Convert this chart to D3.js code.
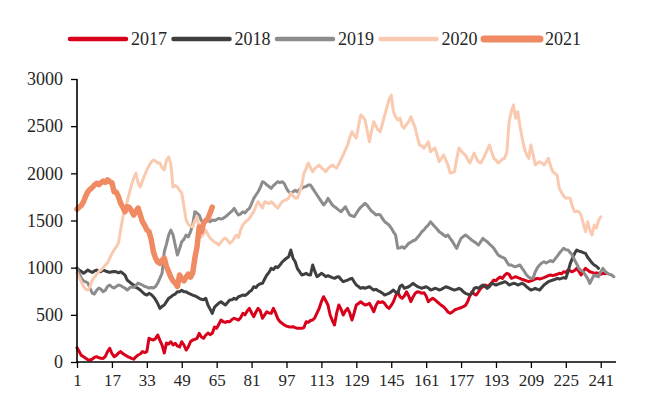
<!DOCTYPE html>
<html>
<head>
<meta charset="utf-8">
<script src="https://cdn.jsdelivr.net/npm/d3@7/dist/d3.min.js"></script>
<style>
  html, body { margin: 0; padding: 0; background: #fff; }
  svg text { font-family: "Liberation Serif", "Times New Roman", serif; fill: #262626; }
</style>
</head>
<body>
<svg id="chart" width="649" height="405"></svg>
<script>
// Daily values per year (trading day 1, 2, 3, ...)
const years = ["2017", "2018", "2019", "2020", "2021"];

const v2017 = [150,110,70,56,40,25,21,30,50,56,45,40,38,60,110,145,90,56,70,95,
110,90,74,60,50,39,30,55,74,85,110,100,110,251,240,233,250,286,230,180,
95,201,190,215,180,198,170,159,215,180,127,160,215,233,240,251,304,265,251,286,
307,290,304,371,357,400,445,427,420,430,427,450,463,455,445,470,516,500,540,569,
520,480,530,569,540,463,500,533,520,516,569,520,460,427,410,392,380,374,370,374,
365,357,357,357,365,427,420,440,445,470,520,569,640,692,650,604,498,440,392,520,
604,560,498,540,569,520,445,520,604,620,639,620,604,610,622,580,533,600,639,630,
639,620,586,569,600,639,700,745,692,675,700,745,700,639,690,728,745,740,728,735,
700,639,660,675,660,639,620,600,586,560,530,516,530,551,560,569,575,586,600,639,
700,745,720,710,745,781,800,816,800,816,840,869,860,887,900,887,920,940,930,887,
895,904,895,887,875,869,860,851,860,869,880,887,880,887,895,904,915,922,915,922,
930,940,935,957,950,975,965,957,970,993,960,922,960,993,975,957,950,940,945,940,
930,940,935,940];

const v2018 = [996,975,960,940,957,975,960,950,965,975,957,960,975,965,957,950,957,960,957,945,
957,940,920,869,850,830,816,790,780,763,740,720,710,728,715,692,660,620,569,590,
604,640,675,690,710,720,745,745,760,745,745,730,720,710,700,690,675,665,660,675,
604,560,516,580,604,625,639,620,604,630,657,660,675,665,692,700,710,705,720,745,
760,798,790,816,830,834,880,922,950,993,980,1010,1000,1028,1060,1081,1100,1116,1187,1100,
1063,990,957,922,930,940,925,922,1028,960,904,920,940,925,904,915,904,895,887,900,
904,875,851,860,869,880,887,850,816,800,781,790,781,790,798,780,763,770,755,745,
730,710,720,728,745,763,740,728,800,816,781,790,798,815,834,816,800,790,781,790,
798,785,763,770,781,775,763,770,785,798,790,781,770,763,770,781,770,745,728,720,
710,730,781,790,781,800,816,800,781,800,834,825,816,825,834,840,851,840,816,825,
834,830,816,825,834,820,798,780,763,770,781,770,763,790,816,834,851,860,869,875,
887,880,887,895,887,957,1040,1099,1150,1187,1175,1169,1160,1152,1110,1081,1050,1028,1015,993];

const v2019 = [996,940,890,860,850,837,780,731,720,760,784,770,745,760,800,816,795,784,800,816,
810,795,784,763,784,798,790,810,837,825,816,800,795,784,790,784,800,837,890,943,
1169,1250,1346,1399,1350,1240,1134,1200,1275,1300,1346,1325,1380,1452,1593,1579,1558,1500,1473,1487,
1505,1487,1505,1500,1510,1523,1515,1523,1540,1558,1580,1600,1629,1590,1558,1570,1593,1580,1610,1629,
1680,1735,1770,1805,1850,1911,1900,1876,1860,1841,1870,1890,1911,1900,1911,1890,1840,1805,1790,1805,
1820,1805,1830,1841,1855,1860,1876,1876,1840,1805,1770,1735,1700,1664,1690,1735,1700,1664,1645,1629,
1610,1593,1620,1646,1600,1558,1550,1540,1575,1611,1640,1660,1682,1660,1629,1600,1580,1558,1565,1558,
1520,1487,1470,1452,1420,1380,1346,1205,1210,1222,1205,1230,1258,1270,1285,1293,1320,1346,1381,1400,
1430,1452,1487,1460,1434,1410,1381,1365,1346,1330,1346,1311,1280,1240,1205,1260,1311,1330,1346,1330,
1311,1290,1275,1258,1240,1275,1311,1290,1275,1250,1230,1205,1170,1134,1120,1110,1099,1060,1028,1028,
1015,1010,1020,1028,993,960,922,900,887,887,957,1000,1028,1050,1063,1050,1063,1075,1063,1090,
1120,1152,1180,1205,1190,1187,1160,1134,1081,1040,993,970,957,920,887,834,880,922,910,904,
957,993,960,940,930,922,904];

const v2020 = [943,900,848,800,770,763,800,869,900,930,960,975,1000,1030,1050,1100,1150,1187,1220,1261,
1400,1537,1620,1700,1791,1880,1950,2003,1900,1855,1920,1980,2035,2080,2120,2141,2130,2109,2109,2060,
2035,2141,2173,2100,1855,1870,1855,1820,1791,1650,1505,1460,1440,1431,1500,1537,1420,1325,1360,1399,
1350,1314,1293,1270,1261,1240,1270,1300,1314,1290,1260,1275,1310,1346,1320,1400,1452,1480,1500,1523,
1560,1593,1650,1699,1665,1632,1699,1690,1680,1699,1680,1650,1632,1665,1699,1710,1720,1738,1791,1760,
1738,1738,1800,1876,2000,2050,2109,2060,2017,2050,2070,2088,2060,2040,2017,2050,2070,2088,2070,2056,
2100,2150,2194,2250,2300,2380,2441,2400,2374,2500,2618,2600,2565,2450,2335,2450,2547,2500,2460,2441,
2530,2618,2700,2780,2830,2653,2600,2565,2586,2500,2480,2520,2547,2600,2540,2480,2380,2300,2290,2268,
2300,2335,2229,2250,2268,2200,2123,2160,2194,2140,2088,2003,2010,2017,2150,2268,2240,2210,2194,2150,
2109,2160,2215,2160,2120,2109,2150,2194,2250,2300,2230,2162,2140,2109,2130,2150,2162,2229,2547,2650,
2724,2583,2653,2500,2374,2265,2200,2159,2300,2200,2088,2110,2123,2110,2088,2120,2159,2080,2017,2000,
1982,1841,1800,1760,1735,1740,1735,1650,1593,1600,1593,1558,1470,1381,1487,1400,1346,1452,1420,1500,
1540];

const v2021 = [1620,1640,1660,1700,1760,1805,1830,1850,1876,1894,1880,1900,1918,1905,1930,1911,1900,1805,1800,1750,
1682,1640,1593,1646,1640,1600,1558,1600,1632,1560,1487,1450,1400,1381,1300,1169,1100,1060,1046,1080,
1102,1010,957,900,860,837,800,922,880,860,900,930,900,943,1100,1219,1431,1380,1473,1500,
1520,1580,1643];

const seriesValues = [v2017, v2018, v2019, v2020, v2021];
const colors = ["#d9001b", "#3f3f3f", "#8c8c8c", "#f9c9b0", "#ef8a62"];
const widths = [3, 3, 3, 3, 5.5];
const legendWidths = [4.5, 4.5, 4.5, 4.5, 7];

const xTicks = [1, 17, 33, 49, 65, 81, 97, 113, 129, 145, 161, 177, 193, 209, 225, 241];
const yTicks = [0, 500, 1000, 1500, 2000, 2500, 3000];

const svg = d3.select("#chart");
const margin = { left: 77, right: 33, top: 79, bottom: 43 };
const W = 649, H = 405;

const x = d3.scaleLinear().domain([1, 248]).range([margin.left, W - margin.right]);
const y = d3.scaleLinear().domain([0, 3000]).range([H - margin.bottom, margin.top]);

// Lines
const line = d3.line()
  .x((d, i) => x(i + 1))
  .y(d => y(d));

const g = svg.append("g");
seriesValues.forEach((vals, k) => {
  g.append("path")
    .datum(vals)
    .attr("fill", "none")
    .attr("stroke", colors[k])
    .attr("stroke-width", widths[k])
    .attr("stroke-linejoin", "round")
    .attr("stroke-linecap", "round")
    .attr("d", line);
});

// Axes
const yAxis = d3.axisLeft(y).tickValues(yTicks).tickSize(6).tickPadding(8).tickFormat(d3.format("d"));
const yG = svg.append("g").attr("transform", `translate(${margin.left},0)`).call(yAxis);
yG.select(".domain").attr("stroke", "#000").attr("stroke-width", 1.6);
yG.selectAll(".tick line").attr("stroke", "#000").attr("stroke-width", 1.3);
yG.selectAll(".tick text").style("font-size", "18px").attr("fill", "#262626");

const xAxis = d3.axisBottom(x).tickValues(xTicks).tickSize(6).tickPadding(6).tickFormat(d3.format("d"));
const xG = svg.append("g").attr("transform", `translate(0,${H - margin.bottom})`).call(xAxis);
xG.select(".domain").attr("stroke", "#000").attr("stroke-width", 1.6);
xG.selectAll(".tick line").attr("stroke", "#000").attr("stroke-width", 1.3);
xG.selectAll(".tick text").style("font-size", "17px").attr("fill", "#262626");
// remove the outer end-ticks drawn into the domain path
xG.select(".domain").attr("d", `M${margin.left},0H${W - margin.right}`);
yG.select(".domain").attr("d", `M0,${H - margin.bottom}V${margin.top}`);

// Legend
const legend = svg.append("g").attr("transform", "translate(70,39)");
years.forEach((yr, k) => {
  const item = legend.append("g").attr("transform", `translate(${k * 103.5},0)`);
  item.append("line")
    .attr("x1", 0).attr("x2", 56).attr("y1", 0).attr("y2", 0)
    .attr("stroke", colors[k]).attr("stroke-width", legendWidths[k])
    .attr("stroke-linecap", "round");
  item.append("text")
    .attr("x", 61).attr("y", 6)
    .style("font-size", "18px")
    .text(yr);
});
</script>
</body>
</html>
